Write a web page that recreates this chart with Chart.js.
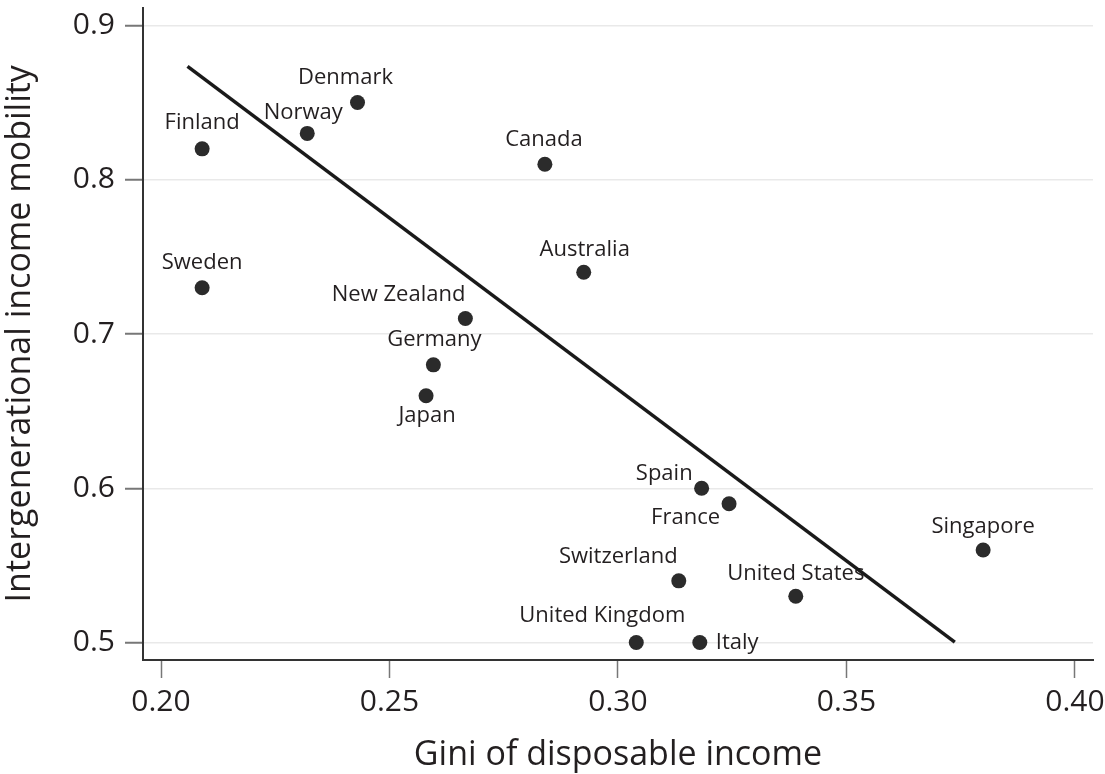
<!DOCTYPE html>
<html>
<head>
<meta charset="utf-8">
<title>Income inequality and intergenerational mobility</title>
<script src="https://cdn.jsdelivr.net/npm/chart.js@4/dist/chart.umd.min.js"></script>
<style>
  html, body { margin: 0; padding: 0; background: #ffffff; }
  canvas { display: block; }
</style>
</head>
<body>
<canvas id="chart" width="1105" height="774"></canvas>
<script>
// Countries with Gini of disposable income (x) and intergenerational income mobility (y)
const countries = ['Finland', 'Sweden', 'Norway', 'Denmark', 'Canada', 'Australia',
  'New Zealand', 'Germany', 'Japan', 'Spain', 'France', 'Switzerland',
  'United States', 'Singapore', 'United Kingdom', 'Italy'];
const giniValues = [0.209, 0.209, 0.232, 0.243, 0.284, 0.2925,
  0.2666, 0.2596, 0.258, 0.3183, 0.3243, 0.3133,
  0.3389, 0.3799, 0.304, 0.3179];
const mobilityValues = [0.82, 0.73, 0.83, 0.85, 0.81, 0.74,
  0.71, 0.68, 0.66, 0.60, 0.59, 0.54,
  0.53, 0.56, 0.50, 0.50];

// Fitted line endpoints
const fitX = [0.2058, 0.3737];
const fitY = [0.8734, 0.5003];

// Axis ticks
const xTickValues = [0.20, 0.25, 0.30, 0.35, 0.40];
const yTickValues = [0.5, 0.6, 0.7, 0.8, 0.9];

// Where each country name sits relative to its dot (pixels)
const labelPlacement = {
  'Finland':        { dx: 0,   dy: -26, align: 'center' },
  'Sweden':         { dx: 0,   dy: -25, align: 'center' },
  'Norway':         { dx: -4,  dy: -21, align: 'center' },
  'Denmark':        { dx: -12, dy: -25, align: 'center' },
  'Canada':         { dx: -1,  dy: -25, align: 'center' },
  'Australia':      { dx: 1,   dy: -23, align: 'center' },
  'New Zealand':    { dx: 0,   dy: -24, align: 'right'  },
  'Germany':        { dx: 1,   dy: -25, align: 'center' },
  'Japan':          { dx: 1,   dy: 20,  align: 'center' },
  'Spain':          { dx: -9,  dy: -15, align: 'right'  },
  'France':         { dx: -9,  dy: 14,  align: 'right'  },
  'Switzerland':    { dx: -1,  dy: -24, align: 'right'  },
  'United States':  { dx: 0,   dy: -23, align: 'center' },
  'Singapore':      { dx: 0,   dy: -23, align: 'center' },
  'United Kingdom': { dx: -34, dy: -27, align: 'center' },
  'Italy':          { dx: 16,  dy: 0,   align: 'left'   }
};

const FONT = "'Open Sans', 'Noto Sans', sans-serif";
const TEXT = '#231f20';

const pointLabels = {
  id: 'pointLabels',
  beforeDatasetsDraw(chart) {
    const ctx = chart.ctx;
    const meta = chart.getDatasetMeta(0);
    ctx.save();
    ctx.font = '22px ' + FONT;
    ctx.fillStyle = TEXT;
    ctx.textBaseline = 'middle';
    meta.data.forEach((pt, i) => {
      const name = countries[i];
      const p = labelPlacement[name];
      ctx.textAlign = p.align;
      ctx.fillText(name, pt.x + p.dx, pt.y + p.dy);
    });
    ctx.restore();
  }
};

new Chart(document.getElementById('chart'), {
  data: {
    datasets: [
      {
        type: 'scatter',
        data: giniValues.map((g, i) => ({ x: g, y: mobilityValues[i] })),
        backgroundColor: '#2b2b2b',
        borderWidth: 0,
        pointRadius: 7.5,
        pointHoverRadius: 7.5,
        order: 2
      },
      {
        type: 'line',
        data: fitX.map((x, i) => ({ x: x, y: fitY[i] })),
        borderColor: '#1a1a1a',
        borderWidth: 3.5,
        pointRadius: 0,
        fill: false,
        order: 1
      }
    ]
  },
  options: {
    responsive: false,
    animation: false,
    events: [],
    layout: { padding: { top: 4, right: 12, left: 0, bottom: 0 } },
    plugins: {
      legend: { display: false },
      tooltip: { enabled: false }
    },
    scales: {
      x: {
        type: 'linear',
        min: 0.19606,
        max: 0.40394,
        afterFit(scale) {
          scale.height = 114;
          scale.paddingLeft = 0;
          scale.paddingRight = 0;
        },
        afterBuildTicks(scale) { scale.ticks = xTickValues.map(v => ({ value: v })); },
        border: { display: true, color: '#333333', width: 2 },
        grid: {
          drawOnChartArea: false,
          drawTicks: true,
          tickLength: 18,
          tickColor: '#777777',
          tickWidth: 1.5
        },
        ticks: {
          padding: 6,
          color: TEXT,
          font: { family: FONT, size: 30 },
          maxRotation: 0,
          callback: v => Number(v).toFixed(2)
        },
        title: {
          display: true,
          text: 'Gini of disposable income',
          color: TEXT,
          font: { family: FONT, size: 34, lineHeight: 1 },
          padding: { top: 0, bottom: 2 }
        }
      },
      y: {
        type: 'linear',
        min: 0.4887,
        max: 0.9116,
        afterFit(scale) {
          scale.width = 143;
          scale.paddingTop = 0;
          scale.paddingBottom = 0;
        },
        afterBuildTicks(scale) { scale.ticks = yTickValues.map(v => ({ value: v })); },
        border: { display: true, color: '#333333', width: 2 },
        grid: {
          drawOnChartArea: true,
          color: '#e9e9e9',
          lineWidth: 1.5,
          drawTicks: true,
          tickLength: 18,
          tickColor: '#777777',
          tickWidth: 2
        },
        ticks: {
          padding: 10,
          color: TEXT,
          font: { family: FONT, size: 30 },
          callback: v => Number(v).toFixed(1)
        },
        title: {
          display: true,
          text: 'Intergenerational income mobility',
          color: TEXT,
          font: { family: FONT, size: 34, lineHeight: 1 },
          padding: { top: 3, bottom: 0 }
        }
      }
    }
  },
  plugins: [pointLabels]
});
</script>
</body>
</html>
